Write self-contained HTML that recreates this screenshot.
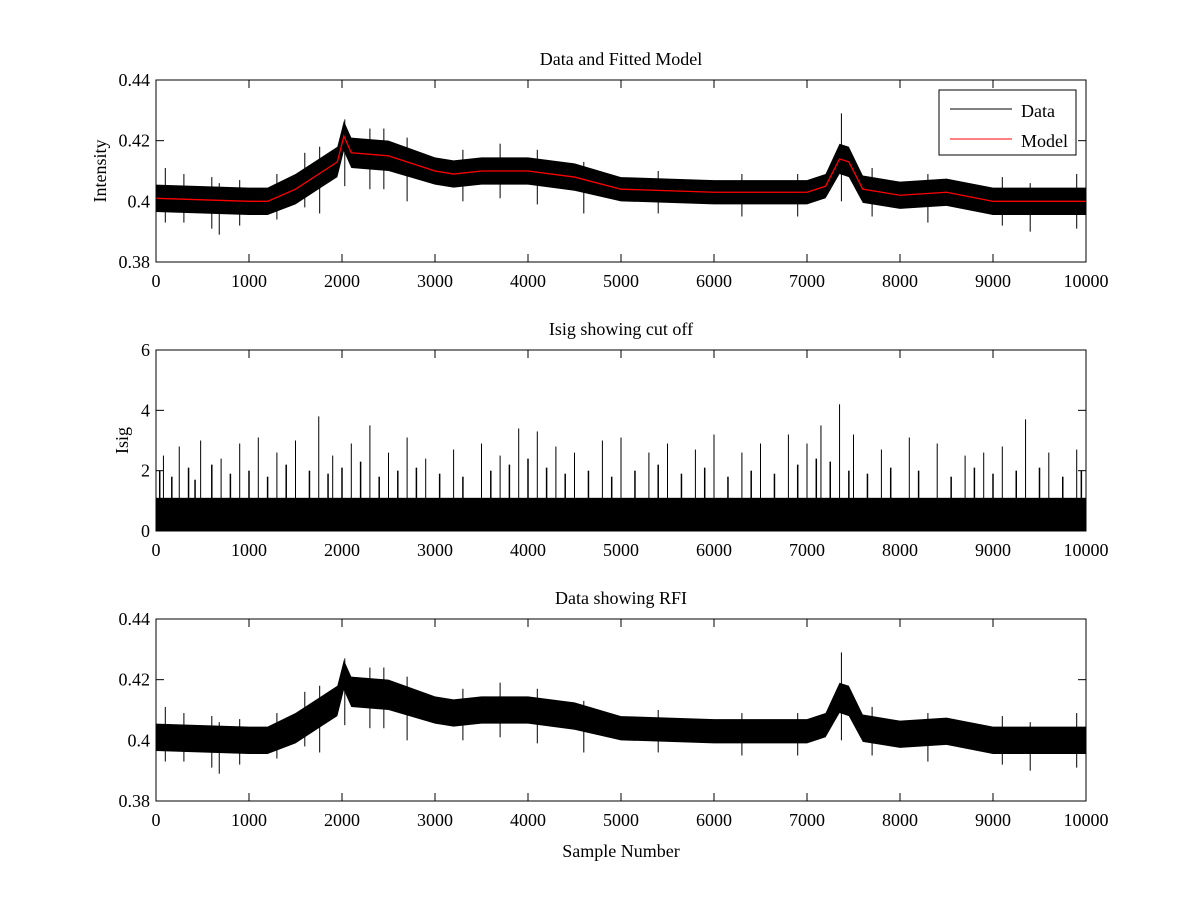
<!DOCTYPE html>
<html><head><meta charset="utf-8"><style>
body{margin:0;background:#fff;}
svg text{font-family:"Liberation Serif",serif;font-size:18px;fill:#000;}
</style></head><body>
<svg id="fig" width="1200" height="900" xmlns="http://www.w3.org/2000/svg"></svg>
<script>
// ---- data ----
const sampleX = [0,500,1000,1200,1500,1800,1950,2020,2100,2500,3000,3200,3500,4000,4500,5000,6000,7000,7200,7350,7450,7600,8000,8500,9000,10000];
const modelY  = [0.401,0.4005,0.4,0.4,0.404,0.410,0.413,0.4215,0.416,0.415,0.410,0.409,0.410,0.410,0.408,0.404,0.403,0.403,0.405,0.414,0.413,0.404,0.402,0.403,0.400,0.400];
const bandHalf = [0.0045,0.0045,0.0045,0.0045,0.005,0.005,0.005,0.005,0.005,0.005,0.0045,0.0045,0.0045,0.0045,0.0045,0.004,0.004,0.004,0.004,0.005,0.005,0.0045,0.0045,0.0045,0.0045,0.0045];
const dataSpikeX = [100,300,600,680,900,1300,1600,1760,2030,2300,2450,2700,3300,3700,4100,4600,5400,6300,6900,7370,7700,8300,9100,9400,9900];
const dataSpikeHi = [0.411,0.409,0.408,0.406,0.407,0.409,0.416,0.418,0.427,0.424,0.424,0.421,0.417,0.419,0.417,0.413,0.410,0.409,0.409,0.429,0.411,0.409,0.408,0.406,0.409];
const dataSpikeLo = [0.393,0.393,0.391,0.389,0.392,0.394,0.398,0.396,0.405,0.404,0.404,0.400,0.400,0.401,0.399,0.396,0.396,0.395,0.395,0.400,0.395,0.393,0.392,0.390,0.391];
const isigBandTop = 1.1;
const isigSpikeX = [80,250,480,700,900,1100,1300,1500,1750,1900,2100,2300,2500,2700,2900,3200,3500,3700,3900,4100,4300,4500,4800,5000,5300,5500,5800,6000,6300,6500,6800,7000,7150,7350,7500,7800,8100,8400,8700,8900,9100,9350,9600,9900];
const isigSpikeY = [2.5,2.8,3.0,2.4,2.9,3.1,2.6,3.0,3.8,2.5,2.9,3.5,2.6,3.1,2.4,2.7,2.9,2.5,3.4,3.3,2.8,2.6,3.0,3.1,2.6,2.9,2.7,3.2,2.6,2.9,3.2,2.9,3.5,4.2,3.2,2.7,3.1,2.9,2.5,2.6,2.8,3.7,2.6,2.7];
const isigMidX = [40,170,350,420,600,800,1000,1200,1400,1650,1850,2000,2200,2400,2600,2800,3050,3300,3600,3800,4000,4200,4400,4650,4900,5150,5400,5650,5900,6150,6400,6650,6900,7100,7250,7450,7650,7900,8200,8550,8800,9000,9250,9500,9750,9950];
const isigMidY = [2.0,1.8,2.1,1.7,2.2,1.9,2.0,1.8,2.2,2.0,1.9,2.1,2.3,1.8,2.0,2.1,1.9,1.8,2.0,2.2,2.4,2.1,1.9,2.0,1.8,2.0,2.2,1.9,2.1,1.8,2.0,1.9,2.2,2.4,2.3,2.0,1.9,2.1,2.0,1.8,2.1,1.9,2.0,2.1,1.8,2.0];
const xTicks = [0,1000,2000,3000,4000,5000,6000,7000,8000,9000,10000];
const intTicks = [0.38,0.40,0.42,0.44];
const intTickLabels = ["0.38","0.4","0.42","0.44"];
const isigTicks = [0,2,4,6];

const NS="http://www.w3.org/2000/svg", svg=document.getElementById('fig');
function el(t,a,p){const e=document.createElementNS(NS,t);for(const k in a)e.setAttribute(k,a[k]);(p||svg).appendChild(e);return e;}
const X0=156,X1=1086;
const sx=v=>X0+(v/10000)*(X1-X0);
function panel(top,bot,ymin,ymax,ticks,labels,title,ylab,name,xlab){
  const g=el('g',{});
  
  
  const sy=v=>bot-(v-ymin)/(ymax-ymin)*(bot-top);
  const t=el('text',{x:(X0+X1)/2,y:top-15,'text-anchor':'middle'},g);t.textContent=title;
  
  
  if(ylab){const yl=el('text',{x:0,y:0,'text-anchor':'middle',transform:`translate(${ylab[1]},${(top+bot)/2}) rotate(-90)`},g);yl.textContent=ylab[0];
  
  }
  if(xlab){const xl=el('text',{x:(X0+X1)/2,y:bot+56,'text-anchor':'middle'},g);xl.textContent=xlab;
  
  }
  ticks.forEach((v,i)=>{const y=sy(v);
    el('line',{x1:X0,x2:X0+8,y1:y,y2:y,stroke:'#000'},g);el('line',{x1:X1,x2:X1-8,y1:y,y2:y,stroke:'#000'},g);
    const tx=el('text',{x:X0-6,y:y+6,'text-anchor':'end'},g);tx.textContent=labels[i];
    
    });
  xTicks.forEach(v=>{const x=sx(v);
    el('line',{x1:x,x2:x,y1:bot,y2:bot-8,stroke:'#000'},g);el('line',{x1:x,x2:x,y1:top,y2:top+8,stroke:'#000'},g);
    const tx=el('text',{x:x,y:bot+25,'text-anchor':'middle'},g);tx.textContent=v;
    
    });
  return {g,sy,box:()=>el('rect',{x:X0,y:top,width:X1-X0,height:bot-top,fill:'none',stroke:'#000'},g)};
}
function dataSeries(p,withModel){
  let pts=sampleX.map((x,i)=>sx(x)+','+p.sy(modelY[i]+bandHalf[i]));
  pts=pts.concat(sampleX.map((x,i)=>sx(x)+','+p.sy(modelY[i]-bandHalf[i])).reverse());
  const band=el('polygon',{points:pts.join(' '),fill:'#000'},p.g);
  
  
  dataSpikeX.forEach((x,i)=>{const l=el('line',{x1:sx(x),x2:sx(x),y1:p.sy(dataSpikeHi[i]),y2:p.sy(dataSpikeLo[i]),stroke:'#000','stroke-width':1},p.g);
    
    });
  if(withModel){const m=el('polyline',{points:sampleX.map((x,i)=>sx(x)+','+p.sy(modelY[i])).join(' '),fill:'none',stroke:'#f00','stroke-width':1.3},p.g);
    
    }
}
const p1=panel(80,262,0.38,0.44,intTicks,intTickLabels,'Data and Fitted Model',['Intensity',106],'panel-data-model');
dataSeries(p1,true);p1.box();
const lg=el('g',{},p1.g);


el('rect',{x:939,y:90,width:137,height:65,fill:'#fff',stroke:'#000'},lg);
el('line',{x1:950,x2:1012,y1:109,y2:109,stroke:'#000'},lg);
el('line',{x1:950,x2:1012,y1:139,y2:139,stroke:'#f00'},lg);
let t=el('text',{x:1021,y:117},lg);t.textContent='Data';


t=el('text',{x:1021,y:147},lg);t.textContent='Model';



const p2=panel(350,531,0,6,isigTicks,isigTicks.map(String),'Isig showing cut off',['Isig',128],'panel-isig');
const ib=el('rect',{x:X0,y:p2.sy(isigBandTop),width:X1-X0,height:p2.sy(0)-p2.sy(isigBandTop),fill:'#000'},p2.g);


isigMidX.forEach((x,i)=>{const l=el('line',{x1:sx(x),x2:sx(x),y1:p2.sy(isigMidY[i]),y2:p2.sy(0),stroke:'#000','stroke-width':1.5},p2.g);
  
  });
isigSpikeX.forEach((x,i)=>{const l=el('line',{x1:sx(x),x2:sx(x),y1:p2.sy(isigSpikeY[i]),y2:p2.sy(0),stroke:'#000'},p2.g);
  
  });
p2.box();

const p3=panel(619,801,0.38,0.44,intTicks,intTickLabels,'Data showing RFI',null,'panel-rfi','Sample Number');
dataSeries(p3,false);p3.box();
</script>
</body></html>
